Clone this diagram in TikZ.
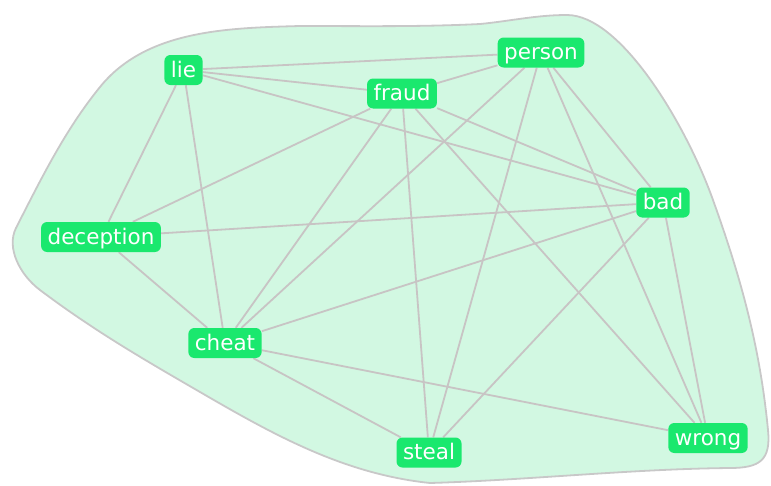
\documentclass[tikz,border=0pt]{standalone}
\usepackage{fontspec}
\setmainfont{DejaVu Sans}
\definecolor{nodegreen}{RGB}{26,232,110}
\definecolor{blobfill}{RGB}{210,248,226}
\definecolor{blobline}{RGB}{200,200,200}
\definecolor{edgegray}{RGB}{200,196,196}
\pgfdeclarelayer{blob}
\pgfdeclarelayer{edges}
\pgfsetlayers{blob,edges,main}
\begin{document}
\begin{tikzpicture}[x=1pt,y=-1pt,
  word/.style={fill=nodegreen, text=white, rounded corners=6pt, inner xsep=6.5pt, inner ysep=5.5pt,
    text height=16.5pt, text depth=2.5pt, font=\fontsize{21.5}{22}\selectfont},
  link/.style={draw=edgegray, line width=1.8pt}]
\useasboundingbox (0,0) rectangle (771,485);
\node[word] (lie) at (183.5,70) {lie};
\node[word] (fraud) at (402,93.5) {fraud};
\node[word] (person) at (541,52.5) {person};
\node[word] (bad) at (663,202.5) {bad};
\node[word] (deception) at (101,237) {deception};
\node[word] (cheat) at (225,343) {cheat};
\node[word] (steal) at (429,452.5) {steal};
\node[word] (wrong) at (708,438) {wrong};
\begin{pgfonlayer}{blob}
\draw[fill=blobfill, draw=blobline, line width=1.8pt]
  (16,228) .. controls (41,179) and (65,130) .. (100,87)
  .. controls (146,30) and (227,28) .. (300,26)
  .. controls (360,26) and (420,27) .. (480,24)
  .. controls (511,21) and (536,15) .. (567,15)
  .. controls (620,15) and (685,122) .. (713,200)
  .. controls (741,278) and (760,347) .. (768,430)
  .. controls (771,460) and (760,468) .. (730,468)
  .. controls (630,469) and (530,480) .. (430,483)
  .. controls (344,474) and (274,435) .. (200,392)
  .. controls (143,359) and (93,330) .. (40,290)
  .. controls (20,275) and (6,248) .. cycle;
\end{pgfonlayer}
\begin{pgfonlayer}{edges}
\foreach \a/\b in {lie/person, lie/fraud, lie/bad, lie/deception, lie/cheat,
  fraud/person, fraud/deception, fraud/cheat, fraud/steal, fraud/bad, fraud/wrong,
  person/cheat, person/steal, person/wrong, person/bad,
  deception/bad, deception/cheat, cheat/bad, cheat/steal, cheat/wrong, bad/steal, bad/wrong}
  \draw[link] (\a) -- (\b);
\end{pgfonlayer}
\end{tikzpicture}
\end{document}
